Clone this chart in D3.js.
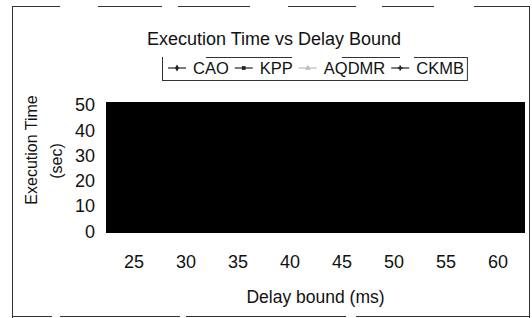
<!DOCTYPE html>
<html>
<head>
<meta charset="utf-8">
<script src="https://cdn.jsdelivr.net/npm/d3@7/dist/d3.min.js"></script>
<style>
  html, body { margin: 0; padding: 0; background: #fff; }
  svg { display: block; }
  text { font-family: "Liberation Sans", Arial, Helvetica, sans-serif; fill: #111; }
</style>
</head>
<body>
<svg id="chart" width="532" height="318"></svg>
<script>
// ---- data ----
const chartTitle = "Execution Time vs Delay Bound";
const xTitle = "Delay bound (ms)";
const yTitleLines = ["Execution Time", "(sec)"];
const delayBounds = [25, 30, 35, 40, 45, 50, 55, 60];
const yTicks = [0, 10, 20, 30, 40, 50];
const seriesNames = ["CAO", "KPP", "AQDMR", "CKMB"];
const seriesColors = ["#222", "#222", "#bbb", "#222"];
const seriesSymbols = [d3.symbolDiamond, d3.symbolSquare, d3.symbolTriangle, d3.symbolCross];

// ---- layout ----
const plot = { left: 106, right: 525, top: 102, bottom: 233 };

const svg = d3.select("#chart");

// outer frame
const frame = svg.append("g").attr("stroke", "#333").attr("stroke-width", 1).attr("fill", "none");
frame.append("line").attr("x1", 12.5).attr("x2", 12.5).attr("y1", 6).attr("y2", 318);
frame.append("line").attr("x1", 529.5).attr("x2", 529.5).attr("y1", 6).attr("y2", 318);
frame.append("line").attr("x1", 12).attr("x2", 530).attr("y1", 6.5).attr("y2", 6.5)
  .attr("stroke-dasharray", "48,38,64,16,72,38,68,26,52,40,64");
frame.append("line").attr("x1", 12).attr("x2", 530).attr("y1", 316.5).attr("y2", 316.5)
  .attr("stroke-dasharray", "40,8,120,6,160,10,200");

// scales
const x = d3.scalePoint().domain(delayBounds).range([plot.left, plot.right]).padding(0.53);
const y = d3.scaleLinear().domain([0, 50]).range([plot.bottom - 1.5, plot.top + 3]);

// plot area (scanned dark panel)
svg.append("rect")
  .attr("x", plot.left).attr("y", plot.top)
  .attr("width", plot.right - plot.left).attr("height", plot.bottom - plot.top)
  .attr("fill", "#000");

// y axis labels
const yAxis = d3.axisLeft(y).tickValues(yTicks).tickSize(0).tickPadding(0);
const yg = svg.append("g").attr("transform", `translate(${95},0)`).call(yAxis);
yg.select(".domain").remove();
yg.selectAll("text").attr("font-size", 18).attr("fill", "#111")
  .style("font-family", '"Liberation Sans", Arial, sans-serif');

// x axis labels
const xAxis = d3.axisBottom(x).tickSize(0).tickPadding(0);
const xg = svg.append("g").attr("transform", `translate(0,${255})`).call(xAxis);
xg.select(".domain").remove();
xg.selectAll("text").attr("font-size", 18).attr("fill", "#111")
  .style("font-family", '"Liberation Sans", Arial, sans-serif');

// titles
svg.append("text").attr("x", 274).attr("y", 45).attr("text-anchor", "middle")
  .attr("font-size", 18).text(chartTitle);
svg.append("text").attr("x", (plot.left + plot.right) / 2).attr("y", 303)
  .attr("text-anchor", "middle").attr("font-size", 17.5).text(xTitle);
svg.append("text").attr("transform", "translate(37,150) rotate(-90)")
  .attr("text-anchor", "middle").attr("font-size", 16).text(yTitleLines[0]);
svg.append("text").attr("transform", "translate(62,161) rotate(-90)")
  .attr("text-anchor", "middle").attr("font-size", 16).text(yTitleLines[1]);

// legend
const leg = svg.append("g");
let cx = 168;
const ly = 68;
seriesNames.forEach((name, i) => {
  leg.append("line").attr("x1", cx).attr("x2", cx + 18).attr("y1", ly).attr("y2", ly)
    .attr("stroke", seriesColors[i]).attr("stroke-width", 1.2);
  leg.append("path").attr("d", d3.symbol(seriesSymbols[i], 14)())
    .attr("transform", `translate(${cx + 9},${ly})`)
    .attr("fill", seriesColors[i]);
  const t = leg.append("text").attr("x", cx + 25).attr("y", ly + 6)
    .attr("font-size", 16.5).text(name);
  cx = cx + 25 + t.node().getComputedTextLength() + 6;
});
const legRight = cx - 3;
const lb = leg.append("g").attr("stroke", "#333").attr("fill", "none").attr("stroke-width", 1);
lb.append("line").attr("x1", 162.5).attr("x2", 162.5).attr("y1", 57).attr("y2", 81);
lb.append("line").attr("x1", legRight + 0.5).attr("x2", legRight + 0.5).attr("y1", 57).attr("y2", 81);
lb.append("line").attr("x1", 162).attr("x2", legRight).attr("y1", 80.5).attr("y2", 80.5);
lb.append("line").attr("x1", 162).attr("x2", legRight).attr("y1", 57.5).attr("y2", 57.5)
  .attr("stroke-dasharray", "0,44,86,50,58,14,60");
</script>
</body>
</html>
